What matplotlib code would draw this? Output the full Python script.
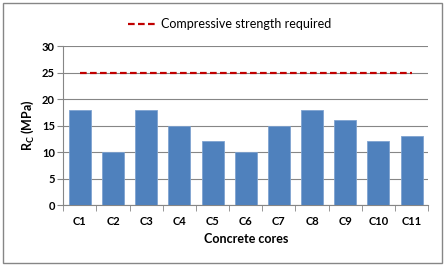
import matplotlib
matplotlib.use('Agg')
from matplotlib import pyplot as plt
from matplotlib.patches import Rectangle

cores = ['C1', 'C2', 'C3', 'C4', 'C5', 'C6', 'C7', 'C8', 'C9', 'C10', 'C11']
strength = [18, 10, 18, 15, 12, 10, 15, 18, 16, 12, 13]
required = [25] * len(cores)

plt.rcParams['font.family'] = ['Lato', 'DejaVu Sans']

fig = plt.figure(figsize=(4.46, 2.66), dpi=100)
ax = fig.add_axes([0.142, 0.229, 0.818, 0.598])

x = list(range(len(cores)))
ax.bar(x, strength, width=0.66, color='#4F81BD', edgecolor='#7FA3D0', linewidth=0.6, zorder=3)
ax.plot(x, required, color='#C00000', linestyle=(0, (3, 1.5)), linewidth=1.6,
        label='Compressive strength required', zorder=4)

ax.set_xlim(-0.5, len(cores) - 0.5)
ax.set_ylim(0, 30)
ax.set_yticks(range(0, 31, 5))
ax.set_xticks(x)
ax.set_xticklabels(cores, fontsize=8, fontweight='bold')
ax.set_xticks([i + 0.5 for i in range(-1, len(cores))], minor=True)
ax.tick_params(axis='x', which='major', length=0, pad=8)
ax.tick_params(axis='x', which='minor', length=4, color='#868686', direction='out')
ax.tick_params(axis='y', length=4, color='#868686', labelsize=8, pad=2)
for lbl in ax.get_yticklabels():
    lbl.set_fontweight('bold')

ax.grid(axis='y', color='#868686', linewidth=0.8, zorder=0)
for s in ['top', 'right']:
    ax.spines[s].set_visible(False)
for s in ['left', 'bottom']:
    ax.spines[s].set_color('#868686')
    ax.spines[s].set_linewidth(0.8)

ax.set_xlabel('Concrete cores', fontsize=9, fontweight='bold', labelpad=4)
ax.set_ylabel(r'R$_\mathregular{C}$ (MPa)', fontsize=9, fontweight='bold', labelpad=4)

fig.legend(loc='upper center', bbox_to_anchor=(0.515, 0.975), frameon=False,
           fontsize=9, handlelength=2.2, handletextpad=0.4)

fig.patches.append(Rectangle((0.006, 0.012), 0.985, 0.975, transform=fig.transFigure,
                             fill=False, edgecolor='#868686', linewidth=1))

fig.savefig('out.png', dpi=100)
